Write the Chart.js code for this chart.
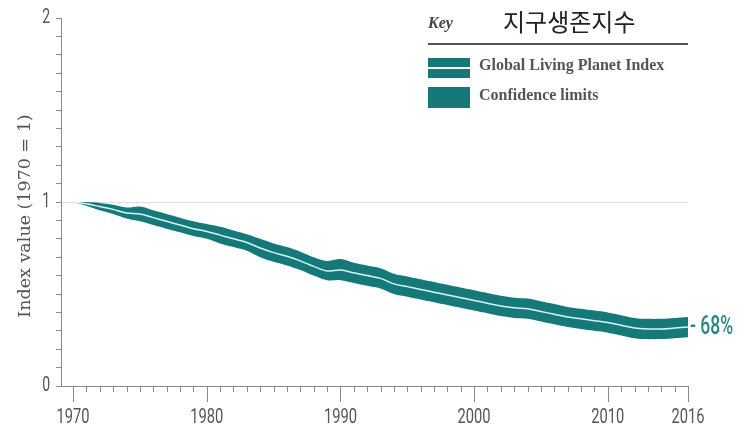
<!DOCTYPE html>
<html>
<head>
<meta charset="utf-8">
<script src="https://cdn.jsdelivr.net/npm/chart.js@4/dist/chart.umd.min.js"></script>
<style>
  html, body { margin: 0; padding: 0; background: #fff; }
  #wrap { width: 741px; height: 433px; position: relative; }
</style>
</head>
<body>
<div id="wrap"><canvas id="lpiChart" width="741" height="433"></canvas></div>
<script>
// Years on the x axis and the labelled ticks
const years = [];
for (let y = 1970; y <= 2016; y++) years.push(y);
const yearLabels = [1970, 1980, 1990, 2000, 2010, 2016];
const valueLabels = [0, 1, 2];

// Global Living Planet Index (1970 = 1)
const indexValues = [
  1.00, 0.99, 0.975, 0.96, 0.94, 0.935, 0.915, 0.895, 0.875, 0.855,
  0.84, 0.82, 0.80, 0.78, 0.75, 0.725, 0.705, 0.68, 0.65, 0.625,
  0.63, 0.615, 0.60, 0.585, 0.555, 0.54, 0.525, 0.51, 0.495, 0.48,
  0.465, 0.45, 0.435, 0.425, 0.42, 0.405, 0.39, 0.375, 0.365, 0.355,
  0.345, 0.33, 0.315, 0.31, 0.31, 0.315, 0.32
];

// Confidence limits
const upperLimit = [
  1.00, 1.00, 0.995, 0.985, 0.97, 0.975, 0.955, 0.935, 0.915, 0.895,
  0.88, 0.865, 0.845, 0.825, 0.80, 0.775, 0.755, 0.73, 0.70, 0.68,
  0.69, 0.67, 0.655, 0.64, 0.61, 0.595, 0.58, 0.565, 0.55, 0.535,
  0.52, 0.505, 0.49, 0.48, 0.475, 0.46, 0.445, 0.43, 0.42, 0.41,
  0.40, 0.385, 0.37, 0.365, 0.365, 0.37, 0.375
];
const lowerLimit = [
  1.00, 0.98, 0.955, 0.935, 0.91, 0.895, 0.875, 0.855, 0.835, 0.815,
  0.80, 0.775, 0.755, 0.735, 0.70, 0.675, 0.655, 0.63, 0.60, 0.575,
  0.575, 0.56, 0.545, 0.53, 0.50, 0.485, 0.47, 0.455, 0.44, 0.425,
  0.41, 0.395, 0.38, 0.37, 0.365, 0.35, 0.335, 0.32, 0.31, 0.30,
  0.29, 0.275, 0.26, 0.255, 0.255, 0.26, 0.265
];

const TEAL = "#15797a";
const AXIS = "#8a8a8a";
const SERIF = "'Liberation Serif', 'DejaVu Serif', serif";

const toPoints = (arr) => arr.map((v, i) => ({ x: years[i], y: v }));

// condensed-looking labels: Roboto squeezed horizontally
function narrowText(ctx, text, x, y, size, align, color, weight) {
  ctx.save();
  ctx.translate(x, y);
  ctx.scale(0.7, 1);
  ctx.font = (weight || "normal") + " " + size + "px Roboto, sans-serif";
  ctx.fillStyle = color;
  ctx.textAlign = align;
  ctx.textBaseline = "middle";
  ctx.fillText(text, 0, 0);
  ctx.restore();
}

// Extra drawing: minor year ticks, axis labels, axis title, key box and end label
const decorations = {
  id: "decorations",
  afterDraw(chart) {
    const ctx = chart.ctx;
    const xs = chart.scales.x;
    const ys = chart.scales.y;
    const base = chart.chartArea.bottom;

    ctx.save();
    // ticks below the x axis, long ones at labelled years
    ctx.strokeStyle = AXIS;
    ctx.lineWidth = 1;
    years.forEach((yr) => {
      const px = Math.round(xs.getPixelForValue(yr)) + 0.5;
      const len = yearLabels.includes(yr) ? 16 : 6;
      ctx.beginPath();
      ctx.moveTo(px, base);
      ctx.lineTo(px, base + len);
      ctx.stroke();
    });

    yearLabels.forEach((yr) => {
      narrowText(ctx, String(yr), xs.getPixelForValue(yr), 418, 21, "center", "#555");
    });
    valueLabels.forEach((v) => {
      narrowText(ctx, String(v), 50, ys.getPixelForValue(v), 20, "right", "#555");
    });

    // y axis title
    ctx.save();
    ctx.translate(25, 216);
    ctx.rotate(-Math.PI / 2);
    ctx.fillStyle = "#555";
    ctx.font = "17.5px 'DejaVu Serif', serif";
    ctx.textAlign = "center";
    ctx.textBaseline = "middle";
    ctx.fillText("Index value (1970 = 1)", 0, 0);
    ctx.restore();

    // key
    ctx.fillStyle = "#444";
    ctx.font = "italic bold 16px " + SERIF;
    ctx.textBaseline = "middle";
    ctx.textAlign = "left";
    ctx.fillText("Key", 428, 24);
    ctx.fillStyle = "#222";
    ctx.font = "24px 'Noto Sans CJK KR', sans-serif";
    ctx.fillText("지구생존지수", 503, 22);
    ctx.strokeStyle = "#555";
    ctx.lineWidth = 2;
    ctx.beginPath();
    ctx.moveTo(428, 44);
    ctx.lineTo(688, 44);
    ctx.stroke();

    ctx.fillStyle = TEAL;
    ctx.fillRect(428, 58, 42, 20);
    ctx.fillStyle = "#fff";
    ctx.fillRect(428, 67, 42, 2);
    ctx.fillStyle = TEAL;
    ctx.fillRect(428, 87, 42, 21);

    ctx.fillStyle = "#555";
    ctx.font = "bold 16px " + SERIF;
    ctx.fillText("Global Living Planet Index", 479, 66);
    ctx.fillText("Confidence limits", 479, 96);

    // decline label at the last year
    const last = indexValues[indexValues.length - 1];
    const drop = Math.round((1 - last) * 100);
    narrowText(ctx, "- " + drop + "%", xs.getPixelForValue(2016) + 2, ys.getPixelForValue(last) + 1, 25, "left", "#2a8686", "500");
    ctx.restore();
  },
};

new Chart(document.getElementById("lpiChart"), {
  type: "line",
  data: {
    datasets: [
      {
        label: "Global Living Planet Index",
        data: toPoints(indexValues),
        borderColor: "#d9f3f2",
        borderWidth: 1.5,
        pointRadius: 0,
        tension: 0.35,
        fill: false,
        order: 0,
      },
      {
        label: "Upper",
        data: toPoints(upperLimit),
        borderWidth: 0,
        pointRadius: 0,
        tension: 0.35,
        fill: false,
        order: 1,
      },
      {
        label: "Lower",
        data: toPoints(lowerLimit),
        borderWidth: 0,
        pointRadius: 0,
        tension: 0.35,
        backgroundColor: TEAL,
        fill: 1,
        order: 2,
      },
    ],
  },
  options: {
    responsive: false,
    animation: false,
    devicePixelRatio: 1,
    layout: { padding: { top: 18, right: 53, left: 0, bottom: 0 } },
    plugins: {
      legend: { display: false },
      tooltip: { enabled: false },
      filler: { drawTime: "beforeDatasetsDraw" },
    },
    scales: {
      x: {
        type: "linear",
        min: 1969.1,
        max: 2016,
        afterBuildTicks: (scale) => {
          scale.ticks = yearLabels.map((v) => ({ value: v }));
        },
        afterFit: (scale) => {
          scale.height = 47;
        },
        grid: { display: false },
        border: { display: true, color: AXIS, width: 1 },
        ticks: { display: false },
      },
      y: {
        min: 0,
        max: 2,
        afterBuildTicks: (scale) => {
          const t = [];
          for (let i = 0; i <= 20; i++) t.push({ value: i / 10 });
          scale.ticks = t;
        },
        afterFit: (scale) => {
          scale.width = 61;
        },
        grid: {
          drawOnChartArea: true,
          color: (c) => (c.tick && Math.abs(c.tick.value - 1) < 1e-6 ? "#dddddd" : "rgba(0,0,0,0)"),
          tickColor: AXIS,
          tickLength: 5,
        },
        border: { display: true, color: AXIS, width: 1 },
        ticks: { display: false },
      },
    },
  },
  plugins: [decorations],
});
</script>
</body>
</html>
